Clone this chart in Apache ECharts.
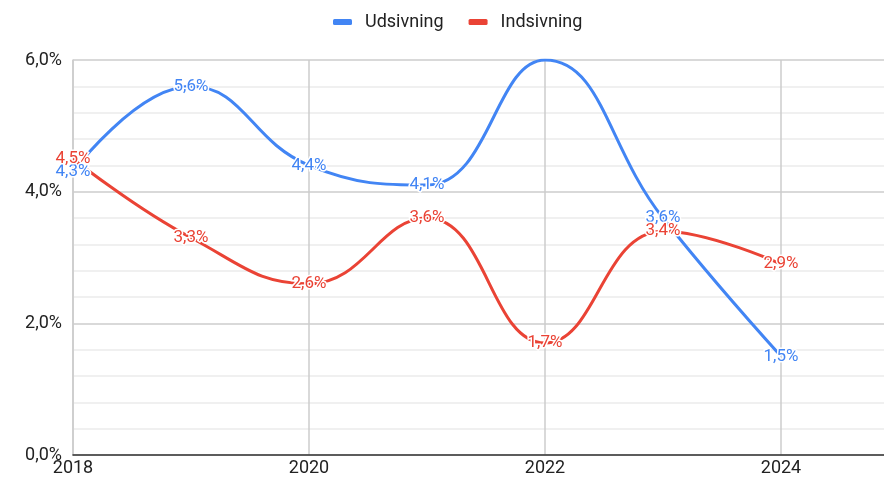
<!DOCTYPE html>
<html>
<head>
<meta charset="utf-8">
<script src="https://cdn.jsdelivr.net/npm/echarts@6/dist/echarts.min.js"></script>
<style>
  html, body { margin: 0; padding: 0; background: #fff; }
  #chart { width: 884px; height: 482px; }
</style>
</head>
<body>
<div id="chart"></div>
<script>
const years = [2018, 2019, 2020, 2021, 2022, 2023, 2024];
const udsivning = [4.3, 5.6, 4.4, 4.1, 6.0, 3.6, 1.5];
const indsivning = [4.5, 3.3, 2.6, 3.6, 1.7, 3.4, 2.9];
// labels that are not drawn in the original
const udsivningHidden = [2022];

const pct = v => v.toFixed(1).replace('.', ',') + '%';

function buildData(values, hidden) {
  return years.map((y, i) => {
    const item = { value: [y, values[i]] };
    if (hidden && hidden.indexOf(y) >= 0) item.label = { show: false };
    return item;
  });
}

function seriesOf(name, values, color, hidden) {
  return {
    name: name,
    type: 'line',
    smooth: 0.45,
    showSymbol: true,
    symbol: 'circle',
    symbolSize: 0,
    lineStyle: { color: color, width: 3 },
    itemStyle: { color: color },
    label: {
      show: true,
      position: 'inside',
      color: color,
      fontFamily: 'Roboto',
      fontSize: 17,
      textBorderColor: '#fff',
      textBorderWidth: 3,
      formatter: p => pct(p.value[1])
    },
    data: buildData(values, hidden)
  };
}

const chart = echarts.init(document.getElementById('chart'));
chart.setOption({
  animation: false,
  textStyle: { fontFamily: 'Roboto' },
  legend: {
    top: 8,
    left: 328,
    itemWidth: 19,
    itemHeight: 6,
    itemGap: 25,
    icon: 'roundRect',
    textStyle: { color: '#222', fontSize: 18, fontFamily: 'Roboto', padding: [0, 0, 0, 8] },
    data: ['Udsivning', 'Indsivning']
  },
  grid: { left: 73, right: -15, top: 60, bottom: 27, outerBoundsMode: 'none' },
  xAxis: {
    type: 'value',
    min: 2018,
    max: 2025,
    interval: 2,
    axisLine: { show: true, lineStyle: { color: '#333', width: 1.5 } },
    axisTick: { show: false },
    axisLabel: {
      color: '#222',
      fontSize: 18,
      margin: 4,
      showMaxLabel: false,
      formatter: v => String(v)
    },
    splitLine: { show: true, lineStyle: { color: '#ccc', width: 1.5 } }
  },
  yAxis: {
    type: 'value',
    min: 0,
    max: 6,
    interval: 2,
    axisLine: { show: true, lineStyle: { color: '#ccc', width: 1.5 } },
    axisTick: { show: false },
    axisLabel: {
      color: '#222',
      fontSize: 18,
      margin: 11,
      formatter: v => pct(v)
    },
    splitLine: { lineStyle: { color: '#ccc', width: 1.5 } },
    minorTick: { show: false, splitNumber: 5 },
    minorSplitLine: { show: true, lineStyle: { color: '#ebebeb', width: 1.5 } }
  },
  series: [
    seriesOf('Udsivning', udsivning, '#4285F4', udsivningHidden),
    seriesOf('Indsivning', indsivning, '#EA4335')
  ]
});
</script>
</body>
</html>
